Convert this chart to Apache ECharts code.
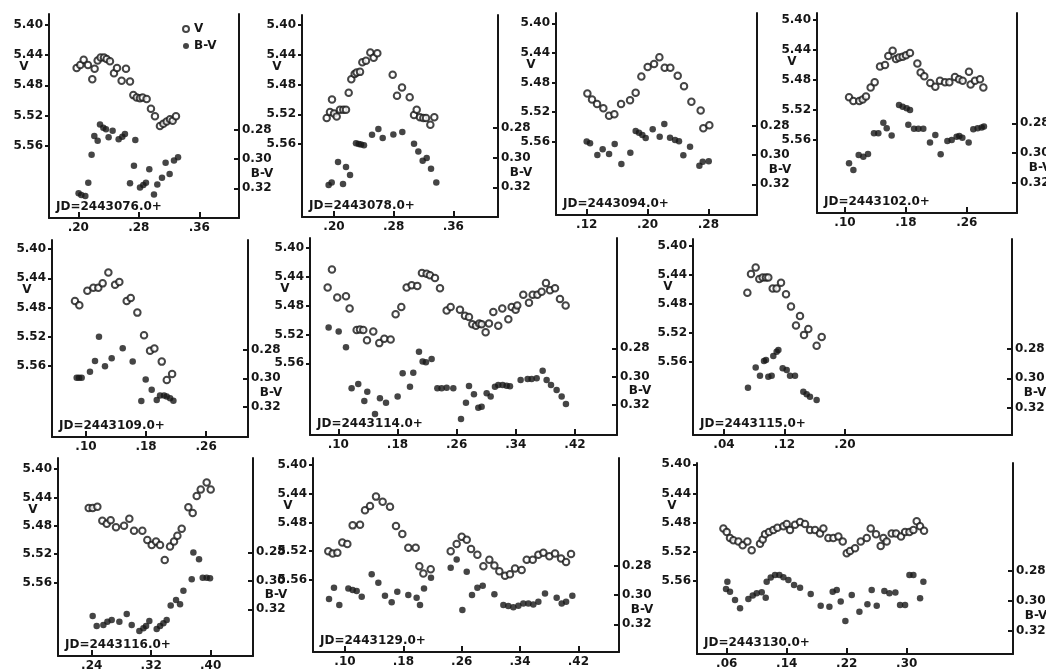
<!DOCTYPE html>
<html>
<head>
<meta charset="utf-8">
<script src="https://cdn.jsdelivr.net/npm/echarts@6/dist/echarts.min.js"></script>
<style>
  html, body { margin: 0; padding: 0; background: #fff; }
  #chart { width: 1046px; height: 669px; }
</style>
</head>
<body>
<div id="chart"></div>
<script>
// ---- Night labels (heliocentric JD zero points) ----
const nightLabels = ['JD=2443076.0+', 'JD=2443078.0+', 'JD=2443094.0+', 'JD=2443102.0+',
                     'JD=2443109.0+', 'JD=2443114.0+', 'JD=2443115.0+',
                     'JD=2443116.0+', 'JD=2443129.0+', 'JD=2443130.0+'];

// ---- Tick values ----
const vTicks  = [5.40, 5.44, 5.48, 5.52, 5.56];
const bvTicks = [0.28, 0.30, 0.32];
const xTicks076 = [0.20, 0.28, 0.36];
const xTicks078 = [0.20, 0.28, 0.36];
const xTicks094 = [0.12, 0.20, 0.28];
const xTicks102 = [0.10, 0.18, 0.26];
const xTicks109 = [0.10, 0.18, 0.26];
const xTicks114 = [0.10, 0.18, 0.26, 0.34, 0.42];
const xTicks115 = [0.04, 0.12, 0.20];
const xTicks116 = [0.24, 0.32, 0.40];
const xTicks129 = [0.10, 0.18, 0.26, 0.34, 0.42];
const xTicks130 = [0.06, 0.14, 0.22, 0.30];

// ---- JD 2443076 ----
const t076V = [0.1978,0.2026,0.2071,0.2128,0.2185,0.2216,0.2256,0.2295,0.2340,0.2375,0.2419,0.2472,0.2512,0.2573,0.2631,0.2684,0.2728,0.2772,0.2816,0.2851,0.2904,0.2961,0.3014,0.3080,0.3125,0.3169,0.3213,0.3248,0.3292];
const V076  = [5.457,5.453,5.446,5.453,5.472,5.458,5.447,5.443,5.443,5.445,5.448,5.464,5.457,5.474,5.458,5.475,5.493,5.496,5.497,5.496,5.498,5.511,5.521,5.534,5.531,5.528,5.525,5.527,5.521];
const t076B = [0.2004,0.2040,0.2093,0.2132,0.2176,0.2212,0.2256,0.2287,0.2331,0.2366,0.2401,0.2454,0.2534,0.2582,0.2617,0.2684,0.2736,0.2754,0.2816,0.2860,0.2895,0.2939,0.3001,0.3045,0.3107,0.3155,0.3208,0.3266,0.3319];
const BV076 = [0.3234,0.3246,0.3253,0.3161,0.2969,0.2841,0.2873,0.2763,0.2784,0.2795,0.2850,0.2805,0.2864,0.2846,0.2827,0.3166,0.3045,0.2869,0.3195,0.3177,0.3161,0.3070,0.3243,0.3173,0.3127,0.3024,0.3102,0.3010,0.2987];

// ---- JD 2443078 ----
const t078V = [0.1902,0.1946,0.1973,0.2000,0.2036,0.2080,0.2125,0.2161,0.2197,0.2232,0.2277,0.2304,0.2349,0.2380,0.2429,0.2487,0.2532,0.2581,0.2787,0.2845,0.2912,0.3015,0.3073,0.3109,0.3153,0.3198,0.3234,0.3292,0.3345];
const V078  = [5.525,5.517,5.500,5.519,5.523,5.514,5.514,5.514,5.491,5.473,5.466,5.464,5.463,5.450,5.448,5.437,5.444,5.438,5.467,5.495,5.484,5.497,5.521,5.514,5.524,5.525,5.525,5.534,5.524];
const t078B = [0.1928,0.1969,0.2054,0.2121,0.2161,0.2215,0.2295,0.2331,0.2362,0.2402,0.2510,0.2595,0.2653,0.2796,0.2916,0.3073,0.3131,0.3189,0.3243,0.3301,0.3372];
const BV078 = [0.3184,0.3167,0.3030,0.3178,0.3064,0.3117,0.2905,0.2910,0.2912,0.2918,0.2847,0.2809,0.2869,0.2845,0.2829,0.2907,0.2959,0.3021,0.3003,0.3075,0.3167];

// ---- JD 2443094 ----
const t094V = [0.1209,0.1270,0.1336,0.1419,0.1494,0.1564,0.1652,0.1770,0.1844,0.1919,0.2002,0.2086,0.2156,0.2226,0.2300,0.2397,0.2480,0.2577,0.2699,0.2734,0.2813];
const V094  = [5.495,5.503,5.509,5.515,5.525,5.523,5.509,5.504,5.494,5.472,5.459,5.455,5.446,5.460,5.460,5.471,5.485,5.506,5.518,5.542,5.538];
const t094B = [0.1200,0.1244,0.1340,0.1410,0.1494,0.1568,0.1656,0.1774,0.1844,0.1888,0.1932,0.1976,0.2068,0.2160,0.2221,0.2296,0.2362,0.2414,0.2471,0.2559,0.2682,0.2726,0.2805];
const BV094 = [0.2907,0.2919,0.2999,0.2960,0.2992,0.2923,0.3061,0.2983,0.2834,0.2846,0.2862,0.2882,0.2823,0.2873,0.2786,0.2880,0.2896,0.2905,0.3001,0.2942,0.3072,0.3045,0.3042];

// ---- JD 2443102 ----
const t102V = [0.1053,0.1110,0.1188,0.1232,0.1276,0.1337,0.1390,0.1460,0.1526,0.1569,0.1626,0.1670,0.1710,0.1758,0.1802,0.1854,0.1951,0.1994,0.2042,0.2121,0.2187,0.2248,0.2314,0.2371,0.2445,0.2498,0.2546,0.2629,0.2651,0.2708,0.2774,0.2818];
const V102  = [5.503,5.508,5.508,5.506,5.502,5.490,5.483,5.462,5.460,5.448,5.441,5.452,5.450,5.449,5.447,5.444,5.458,5.470,5.475,5.484,5.489,5.481,5.483,5.483,5.476,5.479,5.481,5.469,5.486,5.481,5.479,5.490];
const t102B = [0.1053,0.1110,0.1180,0.1241,0.1302,0.1381,0.1438,0.1504,0.1548,0.1613,0.1710,0.1758,0.1810,0.1854,0.1832,0.1907,0.1964,0.2029,0.2117,0.2187,0.2257,0.2345,0.2402,0.2467,0.2502,0.2542,0.2625,0.2686,0.2743,0.2796,0.2826];
const BV102 = [0.3070,0.3115,0.3013,0.3025,0.3007,0.2867,0.2867,0.2796,0.2834,0.2883,0.2676,0.2688,0.2699,0.2710,0.2809,0.2836,0.2836,0.2836,0.2930,0.2879,0.3009,0.2919,0.2912,0.2890,0.2885,0.2897,0.2930,0.2840,0.2834,0.2829,0.2822];

// ---- JD 2443109 ----
const t109V = [0.0853,0.0911,0.1018,0.1098,0.1164,0.1222,0.1298,0.1387,0.1444,0.1542,0.1596,0.1684,0.1773,0.1853,0.1911,0.2009,0.2076,0.2147];
const V109  = [5.471,5.477,5.457,5.453,5.453,5.447,5.432,5.449,5.445,5.471,5.467,5.487,5.518,5.539,5.536,5.554,5.579,5.571];
const t109B = [0.0876,0.0907,0.0942,0.1053,0.1120,0.1173,0.1253,0.1342,0.1489,0.1622,0.1737,0.1795,0.1875,0.1942,0.1986,0.2040,0.2075,0.2120,0.2164];
const BV109 = [0.2995,0.2995,0.2995,0.2953,0.2878,0.2706,0.2915,0.2859,0.2788,0.2882,0.3160,0.3009,0.3080,0.3153,0.3122,0.3122,0.3129,0.3141,0.3158];

// ---- JD 2443114 ----
const t114V = [0.0856,0.0914,0.0986,0.1104,0.1153,0.1248,0.1293,0.1338,0.1388,0.1473,0.1554,0.1622,0.1708,0.1775,0.1852,0.1924,0.1992,0.2068,0.2131,0.2194,0.2239,0.2307,0.2375,0.2465,0.2519,0.2645,0.2713,0.2767,0.2812,0.2861,0.2906,0.2938,0.2992,0.3037,0.3096,0.3163,0.3217,0.3299,0.3344,0.3398,0.3420,0.3501,0.3578,0.3628,0.3691,0.3749,0.3808,0.3862,0.3930,0.3997,0.4074];
const V114  = [5.455,5.430,5.469,5.467,5.484,5.514,5.513,5.514,5.528,5.516,5.532,5.526,5.527,5.492,5.482,5.455,5.452,5.453,5.435,5.436,5.438,5.442,5.456,5.487,5.482,5.486,5.494,5.496,5.506,5.508,5.505,5.506,5.517,5.505,5.489,5.508,5.484,5.499,5.482,5.486,5.480,5.465,5.476,5.465,5.465,5.461,5.449,5.459,5.456,5.471,5.480];
const t114B = [0.0869,0.1005,0.1104,0.1180,0.1270,0.1352,0.1392,0.1496,0.1563,0.1645,0.1802,0.1870,0.1969,0.2014,0.2091,0.2140,0.2185,0.2262,0.2339,0.2397,0.2465,0.2555,0.2659,0.2726,0.2767,0.2834,0.2893,0.2938,0.3006,0.3060,0.3118,0.3163,0.3222,0.3276,0.3321,0.3465,0.3560,0.3614,0.3682,0.3763,0.3817,0.3876,0.3952,0.4020,0.4078];
const BV114 = [0.2654,0.2682,0.2793,0.3082,0.3052,0.3172,0.3106,0.3264,0.3153,0.3184,0.3141,0.2976,0.3071,0.2972,0.2824,0.2894,0.2899,0.2875,0.3082,0.3082,0.3078,0.3082,0.3299,0.3184,0.3066,0.3125,0.3219,0.3212,0.3118,0.3141,0.3071,0.3059,0.3059,0.3064,0.3068,0.3024,0.3016,0.3016,0.3012,0.2958,0.3024,0.3059,0.3094,0.3141,0.3193];

// ---- JD 2443115 ----
const t115V = [0.0709,0.0757,0.0819,0.0867,0.0911,0.0955,0.0986,0.1044,0.1096,0.1154,0.1220,0.1286,0.1352,0.1405,0.1458,0.1515,0.1625,0.1692];
const V115  = [5.465,5.439,5.430,5.446,5.444,5.444,5.444,5.459,5.459,5.451,5.467,5.484,5.510,5.497,5.523,5.515,5.538,5.526];
const t115B = [0.0717,0.0819,0.0876,0.0929,0.0955,0.0986,0.1030,0.1052,0.1096,0.1119,0.1176,0.1229,0.1273,0.1339,0.1449,0.1493,0.1537,0.1625];
const BV115 = [0.3064,0.2927,0.2982,0.2882,0.2875,0.2989,0.2982,0.2848,0.2818,0.2807,0.2932,0.2943,0.2982,0.2982,0.3091,0.3109,0.3125,0.3148];

// ---- JD 2443116 ----
const t116V = [0.2360,0.2413,0.2476,0.2543,0.2602,0.2655,0.2727,0.2835,0.2906,0.2969,0.3081,0.3148,0.3207,0.3265,0.3319,0.3382,0.3453,0.3507,0.3552,0.3610,0.3700,0.3758,0.3812,0.3866,0.3946,0.4000];
const V116  = [5.455,5.455,5.453,5.473,5.477,5.472,5.482,5.480,5.470,5.487,5.487,5.500,5.507,5.502,5.507,5.528,5.509,5.502,5.494,5.484,5.454,5.462,5.438,5.429,5.419,5.429];
const t116B = [0.2413,0.2467,0.2557,0.2611,0.2669,0.2772,0.2871,0.2938,0.3041,0.3095,0.3131,0.3175,0.3274,0.3319,0.3364,0.3408,0.3462,0.3534,0.3588,0.3633,0.3745,0.3767,0.3843,0.3893,0.3946,0.3991];
const BV116 = [0.3247,0.3317,0.3310,0.3287,0.3275,0.3287,0.3233,0.3310,0.3352,0.3333,0.3317,0.3282,0.3338,0.3317,0.3298,0.3275,0.3174,0.3134,0.3165,0.3069,0.2989,0.2802,0.2849,0.2978,0.2978,0.2982];

// ---- JD 2443129 ----
const t129V = [0.0771,0.0831,0.0895,0.0963,0.1032,0.1105,0.1206,0.1274,0.1343,0.1425,0.1516,0.1617,0.1699,0.1786,0.1868,0.1969,0.2019,0.2074,0.2175,0.2449,0.2531,0.2600,0.2669,0.2728,0.2815,0.2897,0.2979,0.3048,0.3116,0.3194,0.3262,0.3331,0.3422,0.3491,0.3574,0.3651,0.3720,0.3802,0.3880,0.3962,0.4031,0.4099];
const V129  = [5.520,5.523,5.522,5.508,5.510,5.484,5.483,5.463,5.457,5.444,5.451,5.458,5.485,5.496,5.515,5.515,5.541,5.551,5.545,5.520,5.510,5.500,5.504,5.517,5.525,5.541,5.532,5.540,5.548,5.554,5.552,5.544,5.546,5.532,5.532,5.525,5.522,5.527,5.523,5.530,5.535,5.524];
const t129B = [0.0781,0.0849,0.0922,0.1046,0.1105,0.1160,0.1229,0.1366,0.1457,0.1548,0.1640,0.1717,0.1868,0.1982,0.2028,0.2083,0.2179,0.2449,0.2531,0.2609,0.2669,0.2741,0.2815,0.2888,0.3048,0.3171,0.3239,0.3308,0.3377,0.3445,0.3514,0.3582,0.3651,0.3742,0.3902,0.3971,0.4031,0.4117];
const BV129 = [0.3027,0.2950,0.3068,0.2955,0.2966,0.2973,0.3011,0.2859,0.2916,0.3005,0.3050,0.2977,0.3000,0.3018,0.3068,0.2955,0.2882,0.2814,0.2757,0.3102,0.2841,0.3000,0.2950,0.2936,0.2995,0.3068,0.3075,0.3084,0.3073,0.3057,0.3057,0.3064,0.3045,0.2989,0.3018,0.3057,0.3045,0.3005];

// ---- JD 2443130 ----
const t130V = [0.0556,0.0600,0.0644,0.0689,0.0756,0.0813,0.0876,0.0933,0.1044,0.1080,0.1111,0.1164,0.1222,0.1276,0.1356,0.1400,0.1444,0.1511,0.1578,0.1644,0.1711,0.1778,0.1844,0.1889,0.1956,0.2022,0.2089,0.2147,0.2200,0.2244,0.2311,0.2387,0.2467,0.2520,0.2591,0.2653,0.2689,0.2733,0.2800,0.2858,0.2924,0.2978,0.3036,0.3089,0.3133,0.3178,0.3231];
const V130  = [5.488,5.493,5.501,5.504,5.506,5.511,5.506,5.518,5.509,5.503,5.496,5.493,5.490,5.487,5.485,5.482,5.490,5.483,5.479,5.482,5.490,5.490,5.495,5.488,5.501,5.501,5.499,5.506,5.522,5.519,5.515,5.506,5.501,5.488,5.496,5.512,5.501,5.506,5.495,5.495,5.499,5.493,5.493,5.490,5.478,5.485,5.491];
const t130B = [0.0609,0.0591,0.0644,0.0711,0.0778,0.0889,0.0947,0.1000,0.1067,0.1120,0.1133,0.1187,0.1244,0.1302,0.1356,0.1422,0.1498,0.1578,0.1720,0.1853,0.1969,0.2013,0.2067,0.2120,0.2182,0.2267,0.2369,0.2476,0.2533,0.2600,0.2702,0.2769,0.2849,0.2911,0.2978,0.3036,0.3089,0.3178,0.3222];
const BV130 = [0.2871,0.2920,0.2938,0.2993,0.3049,0.2987,0.2964,0.2949,0.2942,0.2978,0.2871,0.2844,0.2827,0.2827,0.2842,0.2860,0.2893,0.2911,0.2953,0.3031,0.3038,0.2938,0.2927,0.3004,0.3133,0.2960,0.3071,0.3022,0.2927,0.3031,0.2933,0.2949,0.2944,0.3027,0.3027,0.2827,0.2827,0.2982,0.2871];

// ---- Panel frames: plot box [left, right, top, bottom] in px, and the scale of each axis
//      x: [reference tick, its px, px per day]; v: [px of 5.40, px per mag]; bv: [px of 0.28, px per mag]
const frames = [
  { box: [49, 239, 14, 218],    x: [0.20, 78.3, 756],   v: [25, 754],     bv: [130, 1458] },
  { box: [302, 498, 15, 217],   x: [0.20, 334, 745.7],  v: [25, 744],     bv: [127.7, 1491] },
  { box: [556, 757, 13, 215],   x: [0.12, 586.7, 760.3], v: [23.3, 739.6], bv: [126, 1458] },
  { box: [817, 1017, 13, 213],  x: [0.10, 845, 761],    v: [20, 750.8],   bv: [123.3, 1483] },
  { box: [52, 248, 240, 437],   x: [0.10, 86, 750.8],   v: [249, 731.3],  bv: [350, 1416.7] },
  { box: [310, 617, 238, 435],  x: [0.10, 338.3, 739.6], v: [247.7, 722.9], bv: [348.3, 1416.7] },
  { box: [693, 1012, 239, 435], x: [0.04, 724, 756.2],  v: [245.7, 725],  bv: [349, 1466.5] },
  { box: [58, 253, 458, 656],   x: [0.24, 91.7, 743.7], v: [469, 710.4],  bv: [552.3, 1425.1] },
  { box: [313, 619, 458, 652],  x: [0.10, 345, 729.4],  v: [465, 718.7],  bv: [565.7, 1466.5] },
  { box: [697, 1013, 463, 654], x: [0.06, 726.7, 750.1], v: [464.3, 729.2], bv: [571, 1500] }
];

const nights = [
  { xt: xTicks076, tv: t076V, v: V076, tb: t076B, b: BV076 },
  { xt: xTicks078, tv: t078V, v: V078, tb: t078B, b: BV078 },
  { xt: xTicks094, tv: t094V, v: V094, tb: t094B, b: BV094 },
  { xt: xTicks102, tv: t102V, v: V102, tb: t102B, b: BV102 },
  { xt: xTicks109, tv: t109V, v: V109, tb: t109B, b: BV109 },
  { xt: xTicks114, tv: t114V, v: V114, tb: t114B, b: BV114 },
  { xt: xTicks115, tv: t115V, v: V115, tb: t115B, b: BV115 },
  { xt: xTicks116, tv: t116V, v: V116, tb: t116B, b: BV116 },
  { xt: xTicks129, tv: t129V, v: V129, tb: t129B, b: BV129 },
  { xt: xTicks130, tv: t130V, v: V130, tb: t130B, b: BV130 }
];

const INK = '#161616';
const FONT = '"DejaVu Sans", "Liberation Sans", sans-serif';
const labelStyle = { fontFamily: FONT, fontWeight: 'bold', fontSize: 12, color: INK };
const lineStyle = { color: INK, width: 2 };

const grid = [], xAxis = [], yAxis = [], series = [], graphic = [];

frames.forEach((f, i) => {
  const [L, R, T, B] = f.box;
  const n = nights[i];
  grid.push({ left: L, top: T, width: R - L, height: B - T, outerBoundsMode: 'none', containLabel: false });

  const [x0, xp, xk] = f.x;
  xAxis.push({
    gridIndex: i, type: 'value',
    min: x0 - (xp - L) / xk, max: x0 + (R - xp) / xk,
    axisLine: { onZero: false, lineStyle },
    axisTick: { inside: true, length: 6, customValues: n.xt, lineStyle },
    axisLabel: Object.assign({ customValues: n.xt, margin: 4,
      formatter: v => v.toFixed(2).replace(/^0/, '') }, labelStyle),
    splitLine: { show: false }
  });

  const [vp, vk] = f.v;
  yAxis.push({
    gridIndex: i, type: 'value', position: 'left', inverse: true,
    min: 5.40 - (vp - T) / vk, max: 5.40 + (B - vp) / vk,
    axisLine: { show: true, onZero: false, lineStyle },
    axisTick: { show: true, inside: false, length: 4, customValues: vTicks, lineStyle },
    axisLabel: Object.assign({ customValues: vTicks, margin: 6, formatter: v => v.toFixed(2) }, labelStyle),
    splitLine: { show: false }
  });

  const [bp, bk] = f.bv;
  yAxis.push({
    gridIndex: i, type: 'value', position: 'right', inverse: true,
    min: 0.28 - (bp - T) / bk, max: 0.28 + (B - bp) / bk,
    axisLine: { show: true, onZero: false, lineStyle },
    axisTick: { show: true, inside: true, length: 5, customValues: bvTicks, lineStyle },
    axisLabel: Object.assign({ customValues: bvTicks, margin: 3, formatter: v => v.toFixed(2) }, labelStyle),
    splitLine: { show: false }
  });

  series.push({
    name: 'V', type: 'scatter', xAxisIndex: i, yAxisIndex: 2 * i,
    data: n.tv.map((t, k) => [t, n.v[k]]),
    symbol: 'emptyCircle', symbolSize: 6.5,
    itemStyle: { color: INK, borderColor: INK, borderWidth: 1.7 }
  });
  series.push({
    name: 'B-V', type: 'scatter', xAxisIndex: i, yAxisIndex: 2 * i + 1,
    data: n.tb.map((t, k) => [t, n.b[k]]),
    symbol: 'circle', symbolSize: 6.5,
    itemStyle: { color: INK }
  });

  // axis names and night label
  const font = 'bold 12px ' + FONT;
  graphic.push({ type: 'text', x: L - 25, y: vp + 0.04 * vk + 12,
    style: { text: 'V', font, fill: INK, align: 'center', verticalAlign: 'middle' } });
  graphic.push({ type: 'text', x: R + 23, y: bp + 0.03 * bk,
    style: { text: 'B-V', font, fill: INK, align: 'center', verticalAlign: 'middle' } });
  graphic.push({ type: 'text', x: L + 7, y: B - 11,
    style: { text: nightLabels[i], font, fill: INK, align: 'left', verticalAlign: 'middle' } });
});

const chart = echarts.init(document.getElementById('chart'), null, { renderer: 'canvas' });
chart.setOption({
  backgroundColor: '#ffffff',
  animation: false,
  grid, xAxis, yAxis, series, graphic,
  legend: {
    orient: 'vertical', left: 182, top: 23, padding: 0,
    itemWidth: 6, itemHeight: 6, itemGap: 5,
    data: [{ name: 'V', icon: 'emptyCircle' }, { name: 'B-V', icon: 'circle' }],
    textStyle: labelStyle
  }
});
</script>
</body>
</html>
